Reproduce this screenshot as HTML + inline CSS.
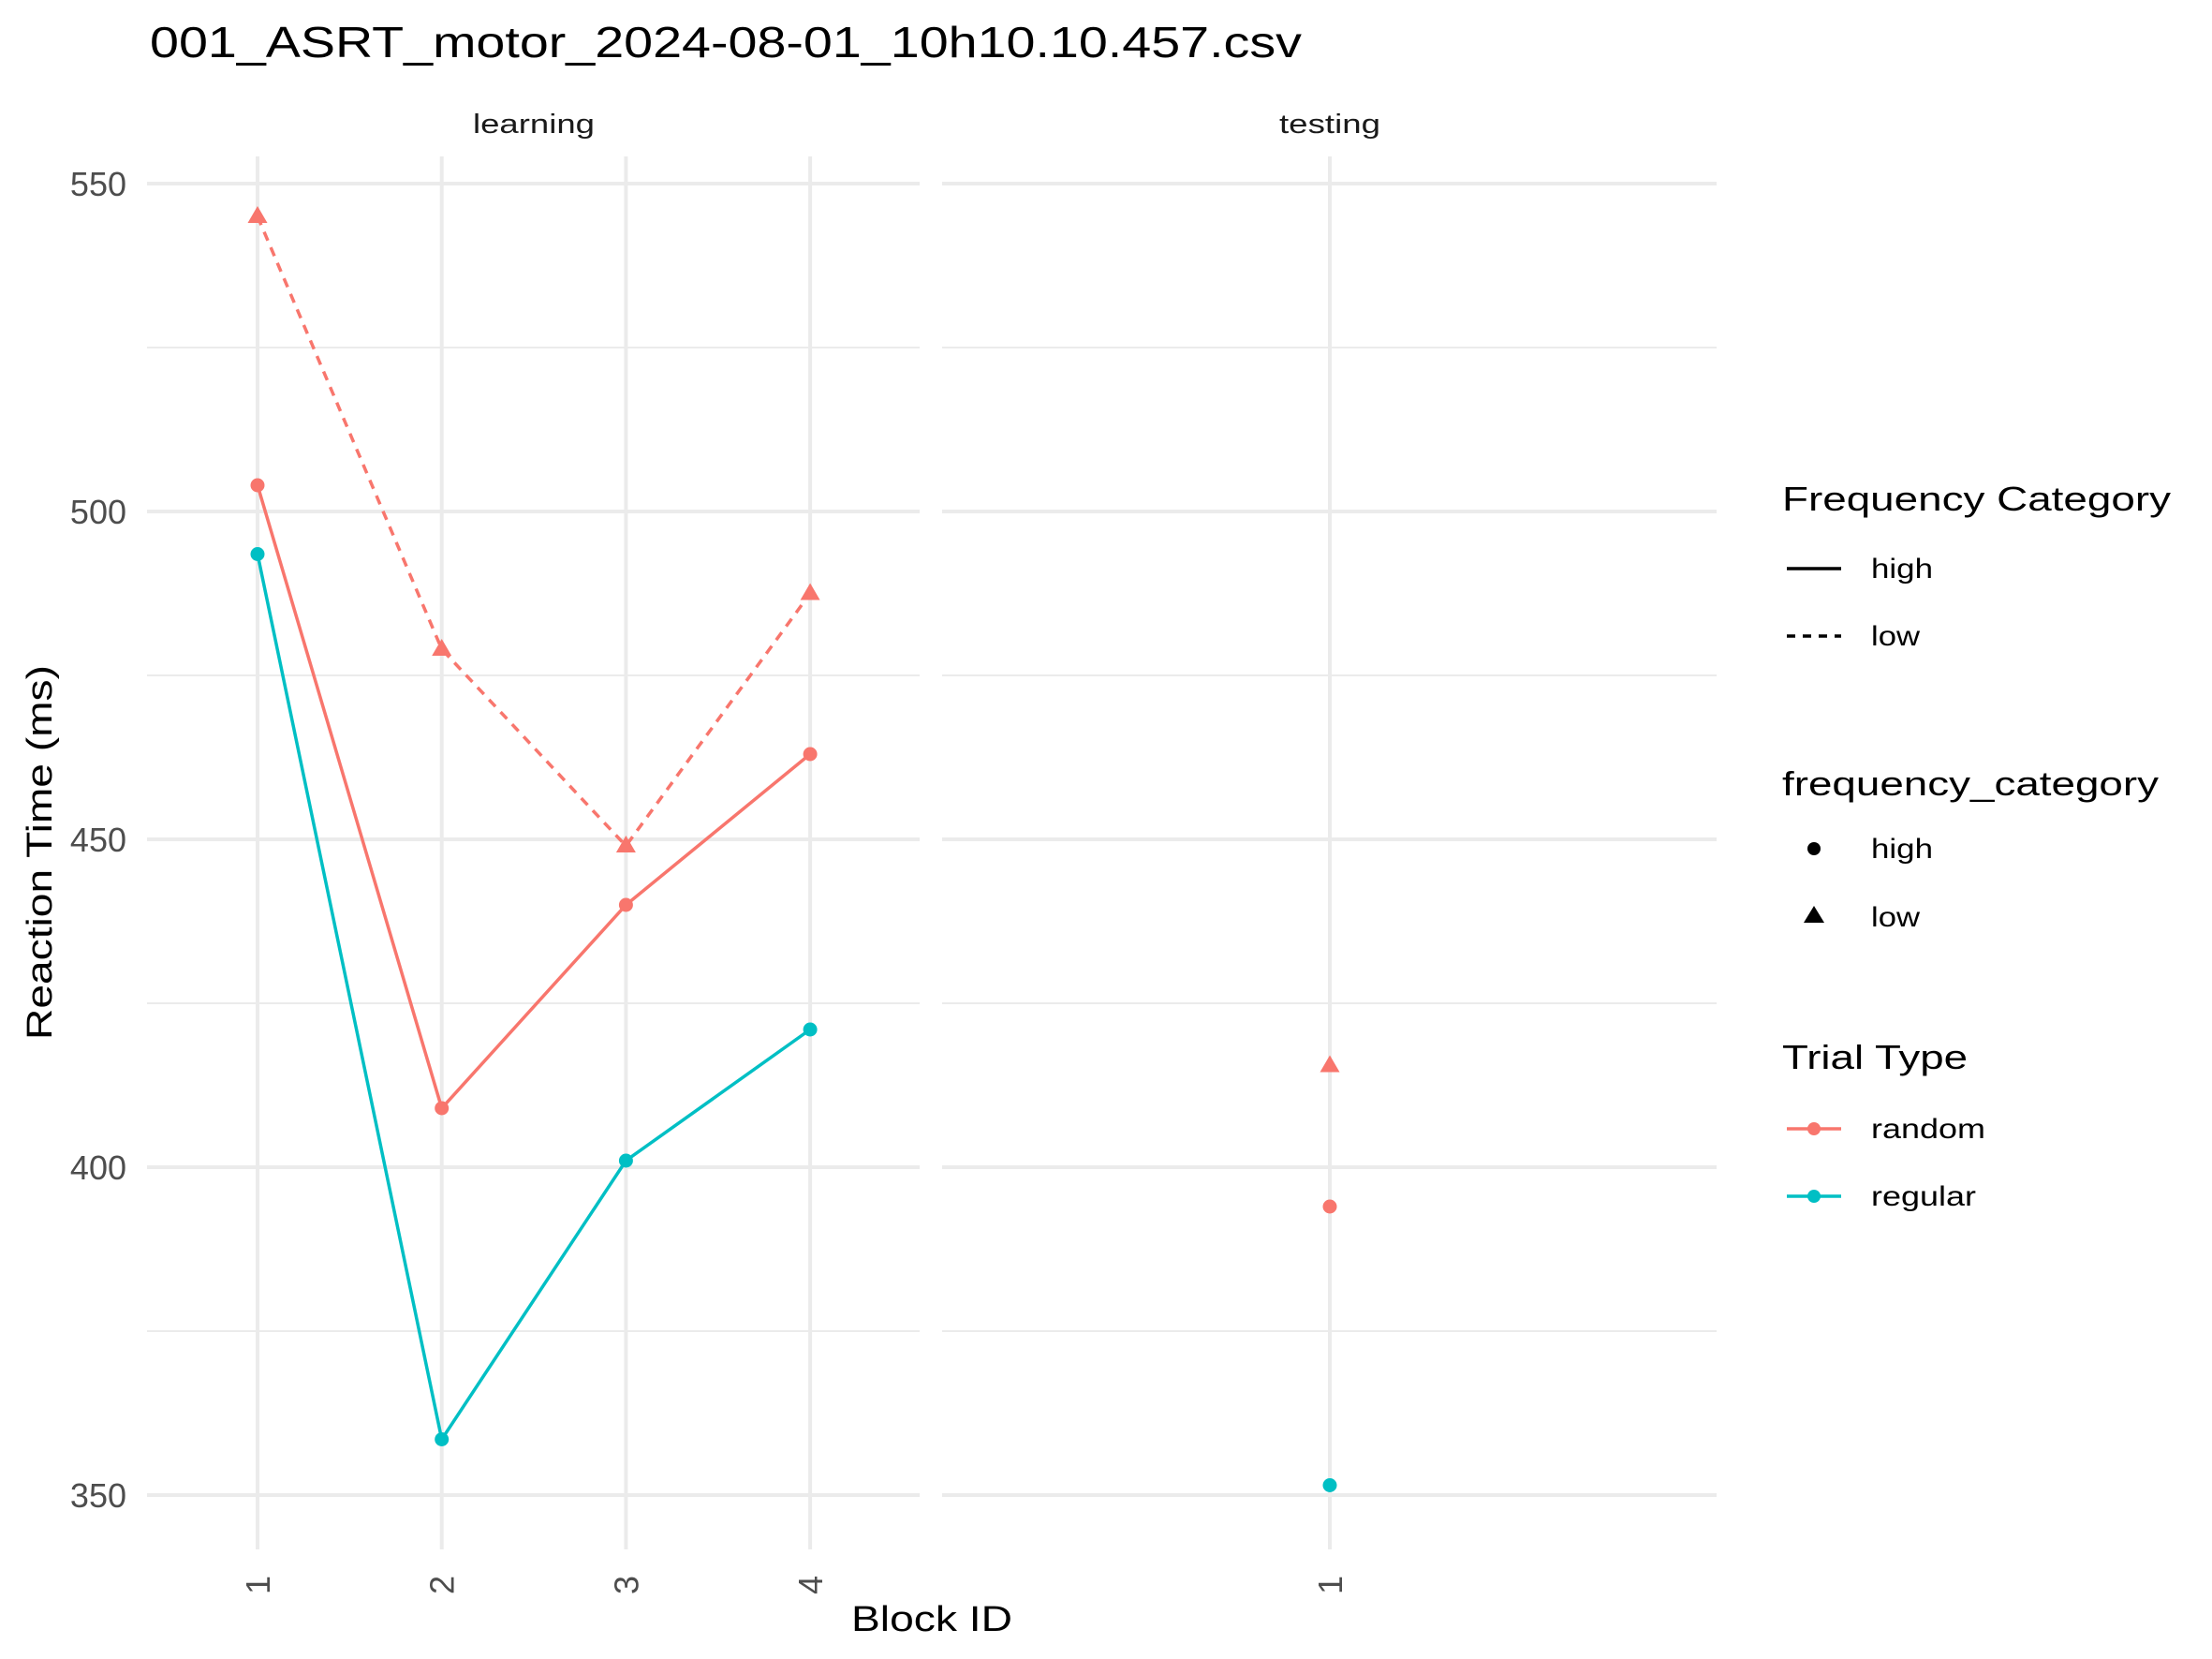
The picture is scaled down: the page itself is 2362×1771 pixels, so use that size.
<!DOCTYPE html>
<html><head><meta charset="utf-8"><style>
html,body{margin:0;padding:0;background:#fff;}
svg{display:block;font-family:"Liberation Sans",Arial,sans-serif;}
</style></head><body>
<svg id="chart" width="2362" height="1771" viewBox="0 0 2362 1771" xmlns="http://www.w3.org/2000/svg">
<text x="160" y="61" font-size="46" fill="#000" textLength="1230" lengthAdjust="spacingAndGlyphs">001_ASRT_motor_2024-08-01_10h10.10.457.csv</text>
<text x="570" y="142" font-size="29" fill="#1a1a1a" text-anchor="middle" textLength="130" lengthAdjust="spacingAndGlyphs">learning</text>
<text x="1420" y="142" font-size="29" fill="#1a1a1a" text-anchor="middle" textLength="108" lengthAdjust="spacingAndGlyphs">testing</text>
<g id="grid"></g>
<g id="marks"></g>
<g id="axes"></g>
<text x="995" y="1741" font-size="38" fill="#000" text-anchor="middle" textLength="172" lengthAdjust="spacingAndGlyphs">Block ID</text>
<text x="0" y="0" font-size="38" fill="#000" text-anchor="middle" transform="translate(55,910) rotate(-90)" textLength="400" lengthAdjust="spacingAndGlyphs">Reaction Time (ms)</text>
<g>
<text x="1903" y="545" font-size="36" fill="#000" textLength="415" lengthAdjust="spacingAndGlyphs">Frequency Category</text>
<line x1="1908" y1="607" x2="1966" y2="607" stroke="#000" stroke-width="3.5"/>
<text x="1998" y="617" font-size="30" fill="#000" textLength="66" lengthAdjust="spacingAndGlyphs">high</text>
<line x1="1908" y1="679" x2="1966" y2="679" stroke="#000" stroke-width="3.5" stroke-dasharray="9,8"/>
<text x="1998" y="689" font-size="30" fill="#000" textLength="52" lengthAdjust="spacingAndGlyphs">low</text>
<text x="1903" y="849" font-size="36" fill="#000" textLength="402" lengthAdjust="spacingAndGlyphs">frequency_category</text>
<circle cx="1937" cy="906" r="7" fill="#000"/>
<text x="1998" y="916" font-size="30" fill="#000" textLength="66" lengthAdjust="spacingAndGlyphs">high</text>
<polygon points="1937,967 1948,985 1926,985" fill="#000"/>
<text x="1998" y="989" font-size="30" fill="#000" textLength="52" lengthAdjust="spacingAndGlyphs">low</text>
<text x="1903" y="1141" font-size="36" fill="#000" textLength="198" lengthAdjust="spacingAndGlyphs">Trial Type</text>
<line x1="1908" y1="1205" x2="1966" y2="1205" stroke="#F8766D" stroke-width="3.5"/>
<circle cx="1937" cy="1205" r="7" fill="#F8766D"/>
<text x="1998" y="1215" font-size="30" fill="#000" textLength="122" lengthAdjust="spacingAndGlyphs">random</text>
<line x1="1908" y1="1277" x2="1966" y2="1277" stroke="#00BFC4" stroke-width="3.5"/>
<circle cx="1937" cy="1277" r="7" fill="#00BFC4"/>
<text x="1998" y="1287" font-size="30" fill="#000" textLength="112" lengthAdjust="spacingAndGlyphs">regular</text>
</g>
</svg>
<script>
const learningBlocks = [1, 2, 3, 4];
const randomHigh = [504, 409, 440, 463];
const regularHigh = [493.5, 358.5, 401, 421];
const randomLow = [545, 479, 449, 487.5];
const testingBlocks = [1];
const testRandomHigh = [394];
const testRandomLow = [415.5];
const testRegularHigh = [351.5];
const yTicks = [350, 400, 450, 500, 550];
const yMinor = [375, 425, 475, 525];

const NS = "http://www.w3.org/2000/svg";
const P1 = {x0: 157, x1: 982}, P2 = {x0: 1006, x1: 1833};
const yTop = 167, yBot = 1654;
function y(v){ return 1596 - (v - 350) * 7; }
function x1(b){ return 275 + (b - 1) * 196.7; }
function x2(b){ return 1420 + (b - 1) * 196.7; }
function mk(tag, attrs, parent){
  const e = document.createElementNS(NS, tag);
  for (const k in attrs) e.setAttribute(k, attrs[k]);
  parent.appendChild(e); return e;
}
const grid = document.getElementById('grid');
const marks = document.getElementById('marks');
const axes = document.getElementById('axes');
[P1, P2].forEach(function(p){
  yMinor.forEach(function(v){
    const l = mk('line', {x1:p.x0, x2:p.x1, y1:y(v), y2:y(v), stroke:'#ebebeb', 'stroke-width':2}, grid);
    
    
  });
  yTicks.forEach(function(v){
    const l = mk('line', {x1:p.x0, x2:p.x1, y1:y(v), y2:y(v), stroke:'#ebebeb', 'stroke-width':4}, grid);
    
    
  });
});
function xTick(xx, b){
  const t = mk('text', {transform:'translate(' + (xx+13) + ',1682) rotate(-90)', 'font-size':36, fill:'#4d4d4d', 'text-anchor':'end'}, axes);
  t.textContent = b;
  
  
}
learningBlocks.forEach(function(b){
  const l = mk('line', {x1:x1(b), x2:x1(b), y1:yTop, y2:yBot, stroke:'#ebebeb', 'stroke-width':4}, grid);
  
  
  xTick(x1(b), b);
});
testingBlocks.forEach(function(b){
  const l = mk('line', {x1:x2(b), x2:x2(b), y1:yTop, y2:yBot, stroke:'#ebebeb', 'stroke-width':4}, grid);
  
  
  xTick(x2(b), b);
});
yTicks.forEach(function(v){
  const t = mk('text', {x:135, y:y(v)+13, 'font-size':36, fill:'#4d4d4d', 'text-anchor':'end'}, axes);
  t.textContent = v;
  
  
});
function line(vals, color, dash, name){
  const pts = vals.map(function(v, i){ return x1(learningBlocks[i]) + ',' + y(v); }).join(' ');
  const a = {points:pts, fill:'none', stroke:color, 'stroke-width':3.5};
  if (dash) a['stroke-dasharray'] = '10,8';
  const l = mk('polyline', a, marks);
  
  
}
function dot(cx, cy, color, name){
  const c = mk('circle', {cx:cx, cy:cy, r:7.5, fill:color}, marks);
  
  
}
function tri(cx, cy, color, name){
  const p = mk('polygon', {points:(cx)+','+(cy-11)+' '+(cx+10.5)+','+(cy+7)+' '+(cx-10.5)+','+(cy+7), fill:color}, marks);
  
  
}
const RED = '#F8766D', CYAN = '#00BFC4';
line(randomLow, RED, true, 'line-random-low');
line(randomHigh, RED, false, 'line-random-high');
line(regularHigh, CYAN, false, 'line-regular-high');
randomLow.forEach(function(v, i){ tri(x1(learningBlocks[i]), y(v), RED, 'point-random-low'); });
randomHigh.forEach(function(v, i){ dot(x1(learningBlocks[i]), y(v), RED, 'point-random-high'); });
regularHigh.forEach(function(v, i){ dot(x1(learningBlocks[i]), y(v), CYAN, 'point-regular-high'); });
testRandomLow.forEach(function(v, i){ tri(x2(testingBlocks[i]), y(v), RED, 'test-point-random-low'); });
testRandomHigh.forEach(function(v, i){ dot(x2(testingBlocks[i]), y(v), RED, 'test-point-random-high'); });
testRegularHigh.forEach(function(v, i){ dot(x2(testingBlocks[i]), y(v), CYAN, 'test-point-regular-high'); });
</script>
</body></html>
